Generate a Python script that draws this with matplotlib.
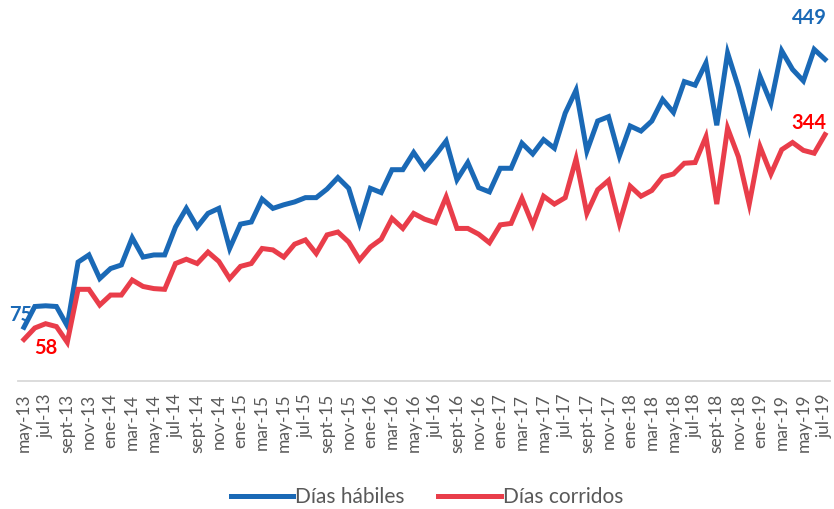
import matplotlib
matplotlib.use('Agg')
from matplotlib import pyplot as plt

plt.rcParams['font.family'] = ['Lato', 'DejaVu Sans']

# months may-13 .. jul-19
meses = ['ene', 'feb', 'mar', 'abr', 'may', 'jun', 'jul', 'ago', 'sept', 'oct', 'nov', 'dic']
fechas = []
for anio in range(13, 20):
  for m in range(12):
    if (anio == 13 and m < 4) or (anio == 19 and m > 6):
      continue
    fechas.append(meses[m] + '-' + str(anio))

dias_habiles = [75, 104, 105, 104, 77, 166, 176, 143, 157, 162,
                200, 173, 176, 176, 215, 241, 215, 234, 241, 185,
                219, 222, 254, 241, 246, 250, 256, 256, 268, 284,
                269, 220, 269, 263, 295, 295, 319, 297, 315, 335,
                281, 305, 270, 264, 297, 297, 332, 317, 337, 325,
                374, 406, 321, 363, 369, 314, 356, 349, 363, 393,
                375, 418, 413, 444, 357, 458, 410, 353, 425, 388,
                461, 435, 419, 463, 449]
dias_corridos = [58, 74, 80, 76, 54, 128, 128, 106, 120, 120,
                 141, 132, 129, 128, 164, 170, 164, 180, 167, 143,
                 160, 164, 185, 183, 173, 191, 197, 178, 204, 208,
                 194, 169, 187, 198, 227, 213, 234, 226, 221, 257,
                 213, 213, 205, 193, 218, 220, 255, 218, 258, 247,
                 256, 310, 234, 267, 280, 220, 272, 258, 266, 285,
                 289, 304, 305, 341, 247, 353, 313, 247, 327, 289,
                 323, 333, 322, 318, 344]

azul = '#1a69b6'
rojo = '#e93d4a'

fig = plt.figure(figsize=(8.34, 5.09), dpi=100)
ax = fig.add_axes([18/834, 128/509, 812/834, 361/509])
x = range(len(fechas))
ax.plot(x, dias_habiles, color=azul, lw=3.6, solid_joinstyle='miter', label='Días hábiles')
ax.plot(x, dias_corridos, color=rojo, lw=3.6, solid_joinstyle='miter', label='Días corridos')

ax.set_xlim(-0.55, 74.46)
ax.set_ylim(0, 504)
for s in ['top', 'right', 'left']:
  ax.spines[s].set_visible(False)
ax.spines['bottom'].set_color('#d9d9d9')
ax.spines['bottom'].set_linewidth(1.3)
ax.set_yticks([])
ax.set_xticks(list(x)[::2])
ax.set_xticklabels(fechas[::2], rotation=90, fontsize=12.5, color='#595959')
ax.tick_params(axis='x', length=0, pad=9)

kw = dict(fontsize=14.5, fontweight='bold', clip_on=False)
ax.text(-0.28, 106, str(dias_habiles[0]), color=azul, ha='center', va='top', **kw)
ax.text(2.03, 60, str(dias_corridos[0]), color='#ff0000', ha='center', va='top', **kw)
ax.text(74.15, 521, str(dias_habiles[-1]), color=azul, ha='right', va='top', **kw)
ax.text(74.15, 374, str(dias_corridos[-1]), color='#ff0000', ha='right', va='top', **kw)

leg = fig.legend(loc='center', bbox_to_anchor=(427/834, 1 - 497/509), ncol=2, frameon=False,
                 fontsize=15, handlelength=3.0, handletextpad=0.1, columnspacing=1.6)
for t in leg.get_texts():
  t.set_color('#595959')

fig.savefig('out.png', dpi=100)
